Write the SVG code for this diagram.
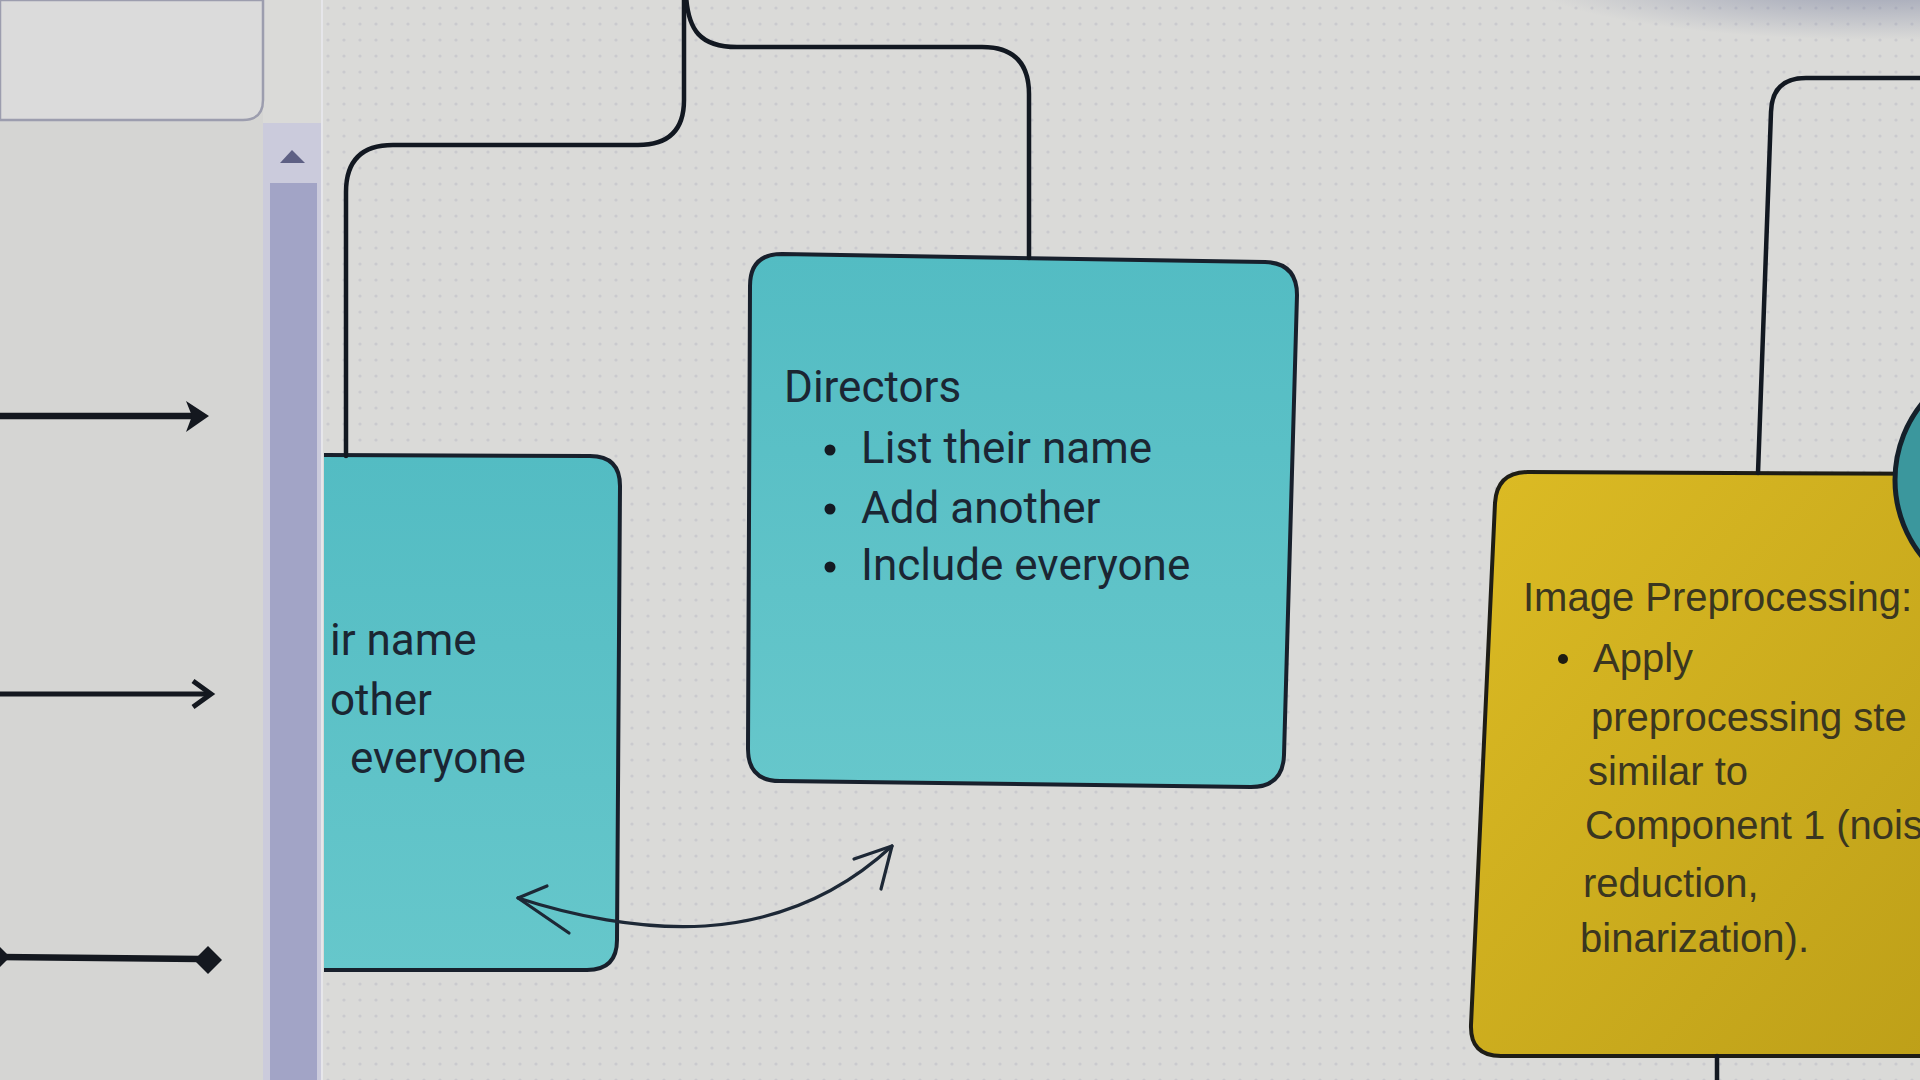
<svg xmlns="http://www.w3.org/2000/svg" width="1920" height="1080" viewBox="0 0 1920 1080">
  <defs>
    <style>
      .conn { fill: none; stroke: #121821; stroke-width: 4.5; stroke-linecap: round; stroke-linejoin: round; }
      .hand { fill: none; stroke: #1d2836; stroke-width: 3.2; stroke-linecap: round; stroke-linejoin: round; }
      .tool { fill: none; stroke: #14181f; stroke-linecap: butt; }
      .cyanbox { fill: url(#cyanGrad); stroke: #18202c; stroke-width: 4; }
      .yellowbox { fill: url(#yellowGrad); stroke: #1e1d16; stroke-width: 4; }
      .ct { font-family: Roboto, "Liberation Sans", sans-serif; font-size: 44px; fill: #1b2633; }
      .yt { font-family: "Liberation Sans", Arial, sans-serif; font-size: 40px; fill: #3a3620; }
      .bul { fill: #141a22; }
    </style>
    <pattern id="dots" width="16" height="16" patternUnits="userSpaceOnUse">
      <circle cx="8" cy="8" r="1.6" fill="#bfbfc8"/>
    </pattern>
    <linearGradient id="cyanGrad" x1="0" y1="0" x2="0" y2="1">
      <stop offset="0" stop-color="#53bcc3"/>
      <stop offset="1" stop-color="#66c7cb"/>
    </linearGradient>
    <linearGradient id="yellowGrad" x1="0" y1="0" x2="1" y2="1">
      <stop offset="0" stop-color="#dcbb24"/>
      <stop offset="1" stop-color="#bd9f18"/>
    </linearGradient>
    <radialGradient id="shade" cx="0.5" cy="0.5" r="0.5">
      <stop offset="0" stop-color="#56608a" stop-opacity="0.55"/>
      <stop offset="1" stop-color="#56608a" stop-opacity="0"/>
    </radialGradient>
    <clipPath id="canvasClip">
      <rect x="324" y="0" width="1600" height="1080"/>
    </clipPath>
  </defs>

  <!-- backgrounds -->
  <rect x="0" y="0" width="1920" height="1080" fill="#dadad8"/>
  <rect x="322" y="0" width="1598" height="1080" fill="url(#dots)" opacity="0.6"/>
  <rect x="0" y="0" width="263" height="1080" fill="#d5d5d3"/>
  <path d="M0,0 L263,0 L263,100 Q263,120 243,120 L0,120 Z" fill="#dbdbdb" stroke="#9c9dae" stroke-width="2.5"/>
  <line x1="322" y1="0" x2="322" y2="1080" stroke="#e6e6ea" stroke-width="2"/>
  <ellipse cx="1880" cy="-25" rx="360" ry="65" fill="url(#shade)"/>

  <!-- scrollbar -->
  <g id="scrollbar">
    <rect x="263" y="123" width="58" height="957" fill="#cbcbdc"/>
    <rect x="270" y="183" width="47" height="897" fill="#a2a4c6"/>
    <polygon points="292,150 280,163 305,163" fill="#5e6084"/>
  </g>

  <!-- palette connector samples -->
  <g id="palette">
    <line class="tool" x1="0" y1="416" x2="195" y2="416" stroke-width="6.5"/>
    <path d="M186,401 L209,416 L186,432 L192,416 Z" fill="#14181f"/>
    <line class="tool" x1="0" y1="694" x2="209" y2="694" stroke-width="5"/>
    <path d="M193,681 L211,694 L193,707" fill="none" stroke="#14181f" stroke-width="5" stroke-linejoin="miter"/>
    <line class="tool" x1="0" y1="957" x2="200" y2="959" stroke-width="6.5"/>
    <polygon points="-4,943 10,957 -4,971 -18,957" fill="#14181f"/>
    <polygon points="208,946 222,960 208,974 194,960" fill="#14181f"/>
  </g>

  <!-- partially hidden node on the left -->
  <g id="node-left" clip-path="url(#canvasClip)">
    <path class="cyanbox" d="M300,455 L590,456 Q620,456 620,486 L617,940 Q617,970 587,970 L300,970 Z"/>
    <text class="ct" x="330" y="655">ir name</text>
    <text class="ct" x="330" y="715">other</text>
    <text class="ct" x="350" y="773">everyone</text>
  </g>

  <!-- Directors node -->
  <g id="node-directors">
    <path class="cyanbox" d="M782,254 L1265,262 Q1297,263 1297,295 L1284,755 Q1283,787 1251,787 L780,781 Q748,781 748,749 L750,286 Q750,254 782,254 Z"/>
    <text class="ct" x="784" y="402">Directors</text>
    <circle class="bul" cx="830" cy="450" r="5.5"/>
    <text class="ct" x="861" y="463">List their name</text>
    <circle class="bul" cx="830" cy="509" r="5.5"/>
    <text class="ct" x="861" y="523">Add another</text>
    <circle class="bul" cx="830" cy="567" r="5.5"/>
    <text class="ct" x="861" y="580">Include everyone</text>
  </g>

  <!-- Image preprocessing node -->
  <g id="node-preprocessing">
    <path class="yellowbox" d="M1960,474 L1528,472 Q1497,472 1495,503 L1471,1025 Q1470,1056 1501,1056 L1960,1056 Z"/>
    <text class="yt" x="1523" y="611">Image Preprocessing:</text>
    <circle cx="1563" cy="659" r="5" fill="#1e1c12"/>
    <text class="yt" x="1593" y="672">Apply</text>
    <text class="yt" x="1591" y="731">preprocessing ste</text>
    <text class="yt" x="1588" y="785">similar to</text>
    <text class="yt" x="1585" y="839">Component 1 (nois</text>
    <text class="yt" x="1583" y="897">reduction,</text>
    <text class="yt" x="1580" y="952">binarization).</text>
  </g>

  <!-- circle node at right edge -->
  <g id="node-circle">
    <circle cx="2017" cy="480" r="122" fill="#3b979d" stroke="#15202a" stroke-width="5"/>
  </g>

  <!-- connectors -->
  <g id="connectors">
    <path class="conn" d="M346,456 L346,192 Q346,145 393,145 L638,145 Q684,145 684,100 L684,-5" clip-path="url(#canvasClip)"/>
    <path class="conn" d="M686,-5 C688,30 700,47 737,47 L982,47 Q1029,47 1029,94 L1029,258"/>
    <path class="conn" d="M1758,473 L1771,112 Q1772,78 1806,78 L1930,78"/>
    <path class="conn" d="M1717,1056 L1717,1085"/>
    <path class="hand" d="M518,898 C570,915 640,930 705,926 C790,920 850,885 892,846"/>
    <path class="hand" d="M547,886 L518,898 L569,933"/>
    <path class="hand" d="M854,859 L892,846 L881,889"/>
  </g>
</svg>
